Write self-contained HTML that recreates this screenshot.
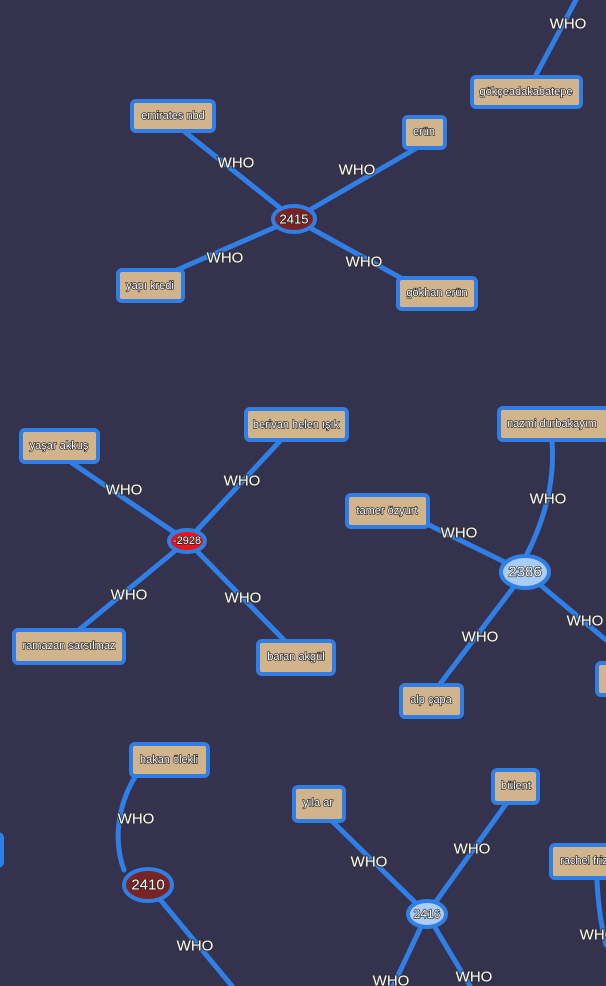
<!DOCTYPE html>
<html><head><meta charset="utf-8"><style>
html,body{margin:0;padding:0;background:#35324e;}
svg{display:block}
text{font-family:"Liberation Sans","DejaVu Sans",sans-serif;fill:#fff;stroke:#222;stroke-width:1.3px;paint-order:stroke;text-anchor:middle;dominant-baseline:central}
.w{font-size:15px;stroke:#333;stroke-width:2px}
.b{font-size:11px}
.e{stroke:#2f7fe6;stroke-width:5;fill:none;stroke-linecap:round}
.bx{fill:#d2b48c;stroke:#2f7fe6;stroke-width:4}
</style></head><body>
<svg width="606" height="986" viewBox="0 0 606 986">
<rect width="606" height="986" fill="#35324e"/>
<g class="e">
<line x1="536" y1="75" x2="576" y2="0"/>
<line x1="294" y1="219" x2="185" y2="132"/>
<line x1="294" y1="219" x2="415" y2="149"/>
<line x1="294" y1="219" x2="170" y2="273"/>
<line x1="294" y1="219" x2="410" y2="283"/>
<line x1="187" y1="541" x2="72" y2="463"/>
<line x1="187" y1="541" x2="280" y2="441"/>
<line x1="187" y1="541" x2="80" y2="629"/>
<line x1="187" y1="541" x2="285" y2="641"/>
<path d="M552 441 C555 480 545 520 525 558"/>
<line x1="525" y1="572" x2="425" y2="523"/>
<line x1="525" y1="572" x2="440" y2="684"/>
<line x1="525" y1="572" x2="606" y2="640"/>
<path d="M135 777 C118 805 113 840 124 870"/>
<line x1="148" y1="885" x2="232" y2="986"/>
<line x1="427" y1="914" x2="333" y2="822"/>
<line x1="427" y1="914" x2="506" y2="804"/>
<line x1="427" y1="914" x2="393" y2="986"/>
<line x1="427" y1="914" x2="470" y2="986"/>
<path d="M597 880 C598 905 601 925 606 945"/>
</g>
<g>
<text x="568" y="24" class="w">WHO</text>
<text x="236" y="163" class="w">WHO</text>
<text x="357" y="170" class="w">WHO</text>
<text x="225" y="258" class="w">WHO</text>
<text x="364" y="262" class="w">WHO</text>
<text x="124" y="490" class="w">WHO</text>
<text x="242" y="481" class="w">WHO</text>
<text x="129" y="595" class="w">WHO</text>
<text x="243" y="598" class="w">WHO</text>
<text x="548" y="499" class="w">WHO</text>
<text x="459" y="533" class="w">WHO</text>
<text x="480" y="637" class="w">WHO</text>
<text x="585" y="621" class="w">WHO</text>
<text x="136" y="819" class="w">WHO</text>
<text x="195" y="946" class="w">WHO</text>
<text x="369" y="862" class="w">WHO</text>
<text x="472" y="849" class="w">WHO</text>
<text x="391" y="981" class="w">WHO</text>
<text x="474" y="977" class="w">WHO</text>
<text x="598" y="935" class="w">WHO</text>
</g>
<g>
<rect class="bx" x="472" y="77" width="109" height="30" rx="4"/><text class="b" x="526" y="92">gökçeadakabatepe</text>
<rect class="bx" x="132" y="101" width="82" height="30" rx="4"/><text class="b" x="173" y="116">emirates nbd</text>
<rect class="bx" x="404" y="117" width="41" height="31" rx="4"/><text class="b" x="424" y="132">erün</text>
<rect class="bx" x="118" y="270" width="65" height="31" rx="4"/><text class="b" x="150" y="286">yapı kredi</text>
<rect class="bx" x="398" y="278" width="78" height="31" rx="4"/><text class="b" x="437" y="293">gökhan erün</text>
<rect class="bx" x="21" y="430" width="77" height="32" rx="4"/><text class="b" x="59" y="446">yaşar akkuş</text>
<rect class="bx" x="246" y="409" width="101" height="31" rx="4"/><text class="b" x="296" y="425">berivan helen ışık</text>
<rect class="bx" x="499" y="408" width="110" height="32" rx="4"/><text class="b" x="552" y="424">nazmi durbakayım</text>
<rect class="bx" x="347" y="495" width="81" height="32" rx="4"/><text class="b" x="387" y="511">tamer özyurt</text>
<rect class="bx" x="14" y="630" width="110" height="33" rx="4"/><text class="b" x="69" y="646">ramazan sarsılmaz</text>
<rect class="bx" x="258" y="641" width="76" height="33" rx="4"/><text class="b" x="296" y="657">baran akgül</text>
<rect class="bx" x="401" y="685" width="61" height="32" rx="4"/><text class="b" x="431" y="700">alp çapa</text>
<rect class="bx" x="597" y="663" width="20" height="32" rx="4"/>
<rect class="bx" x="131" y="744" width="77" height="32" rx="4"/><text class="b" x="169" y="760">hakan ölekli</text>
<rect class="bx" x="-20" y="834" width="22" height="32" rx="4"/>
<rect class="bx" x="294" y="787" width="50" height="34" rx="4"/><text class="b" x="318" y="803">yıla ar</text>
<rect class="bx" x="493" y="770" width="45" height="33" rx="4"/><text class="b" x="516" y="786">bülent</text>
<rect class="bx" x="551" y="845" width="70" height="33" rx="4"/><text class="b" x="584" y="861">rachel friz</text>
</g>
<ellipse cx="294" cy="219" rx="21" ry="13" fill="#7a2323" stroke="#2f7fe6" stroke-width="4"/>
<text x="294" y="219" style="font-size:13px">2415</text>
<ellipse cx="187" cy="541" rx="18" ry="11" fill="#e8141a" stroke="#2f7fe6" stroke-width="4"/>
<text x="187" y="541" style="font-size:11px">-2928</text>
<ellipse cx="525" cy="572" rx="24" ry="16" fill="#a9cdf6" stroke="#2f7fe6" stroke-width="4"/>
<text x="525" y="572" style="font-size:15px">2386</text>
<ellipse cx="148" cy="885" rx="24" ry="16" fill="#7a2323" stroke="#2f7fe6" stroke-width="4"/>
<text x="148" y="885" style="font-size:15px">2410</text>
<ellipse cx="427" cy="914" rx="19" ry="13" fill="#a9cdf6" stroke="#2f7fe6" stroke-width="4"/>
<text x="427" y="914" style="font-size:12px">2416</text>
</svg>
</body></html>
